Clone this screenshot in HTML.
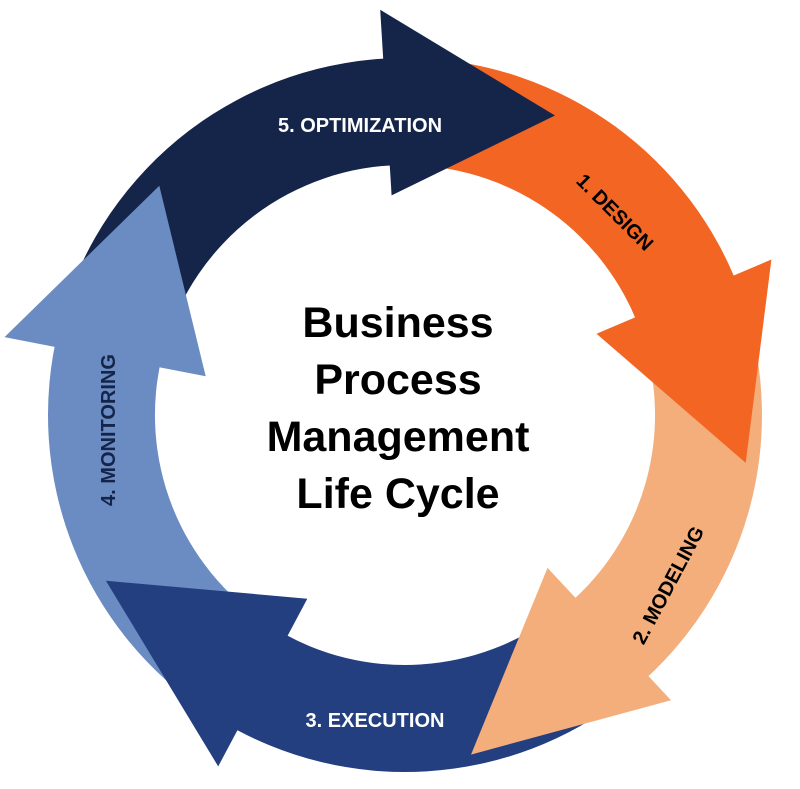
<!DOCTYPE html>
<html><head><meta charset="utf-8"><style>
html,body{margin:0;padding:0;background:#fff;width:800px;height:789px;overflow:hidden}
svg text{font-family:"Liberation Sans",sans-serif;font-weight:bold}
</style></head><body>
<svg id="s" width="800" height="789" viewBox="0 0 800 789" xmlns="http://www.w3.org/2000/svg">
<g id="bands"></g><g id="heads"></g>
<text x="398" y="337" font-size="43" text-anchor="middle" fill="#000">Business</text>
<text x="398" y="394" font-size="43" text-anchor="middle" fill="#000">Process</text>
<text x="398" y="451" font-size="43" text-anchor="middle" fill="#000">Management</text>
<text x="398" y="508" font-size="43" text-anchor="middle" fill="#000">Life Cycle</text>
<text x="360" y="132" font-size="20" text-anchor="middle" fill="#fff">5. OPTIMIZATION</text>
<text transform="translate(615,212) rotate(45)" font-size="20" text-anchor="middle" dy="7" fill="#000">1. DESIGN</text>
<text transform="translate(668,585) rotate(-62)" font-size="20" text-anchor="middle" dy="7" fill="#000">2. MODELING</text>
<text x="375" y="727" font-size="20" text-anchor="middle" fill="#fff">3. EXECUTION</text>
<text transform="translate(108,430) rotate(-90)" font-size="20" text-anchor="middle" dy="7" fill="#15254a">4. MONITORING</text>
</svg>
<script>
var cx=405,cy=415,ri=250,ro=357;
function P(a,r){a=a*Math.PI/180;return (cx+r*Math.sin(a)).toFixed(1)+","+(cy-r*Math.cos(a)).toFixed(1);}
var A=[
 ["#f26522",362,67,208,398,98,344],
 ["#f4ae7b",72,137,209,390,169,346],
 ["#243f7f",142,208,208,398,241,342],
 ["#6b8cc2",213,281,203,408,313,336],
 ["#15254a",286,356.5,220,406,386.6,335]
];
var b="",h="";
A.forEach(function(x){
 var a0=x[1],a1=x[2]+3;
 if(a1<a0)a1+=360;
 var large=(a1-a0)>180?1:0;
 b+='<path fill="'+x[0]+'" d="M'+P(a0,ro)+' A'+ro+','+ro+' 0 '+large+' 1 '+P(a1,ro)+' L'+P(a1,ri)+' A'+ri+','+ri+' 0 '+large+' 0 '+P(a0,ri)+' Z"/>';
 h+='<path fill="'+x[0]+'" d="M'+P(x[2],x[4])+' L'+P(x[5],x[6])+' L'+P(x[2],x[3])+' Z"/>';
});
document.getElementById("bands").innerHTML=b;
document.getElementById("heads").innerHTML=h;
</script>
</body></html>
